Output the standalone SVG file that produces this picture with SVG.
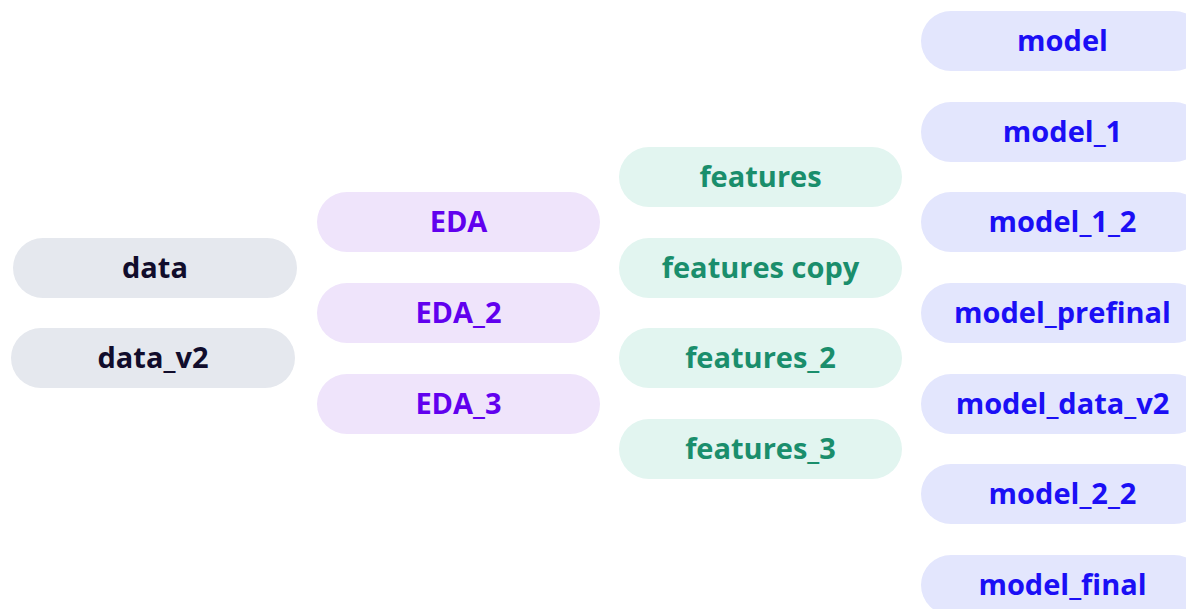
<svg xmlns="http://www.w3.org/2000/svg" width="1186" height="609" viewBox="0 0 1186 609">
  <style>
    text { font-family: "Open Sans", "Noto Sans", "Liberation Sans", sans-serif; font-weight: 700; font-size: 29px; text-anchor: middle; }
    .data rect { fill: #e5e8ee; }
    .data text { fill: #110d2c; }
    .eda rect { fill: #efe4fb; }
    .eda text { fill: #6100ee; }
    .feat rect { fill: #e2f5f0; }
    .feat text { fill: #1a8e6c; }
    .model rect { fill: #e3e6fd; }
    .model text { fill: #1b0ff5; }
  </style>
  <rect width="1186" height="609" fill="#ffffff"/>
  <!-- no edges between the stages -->
  <g id="connectors"/>

  <!-- data column -->
  <g id="data" class="data"><rect x="13" y="238" width="284" height="60" rx="30"/><text x="155" y="278.3">data</text></g>
  <g id="data_v2" class="data"><rect x="11" y="328" width="284" height="60" rx="30"/><text x="153" y="368.3">data_v2</text></g>

  <!-- EDA column -->
  <g id="EDA" class="eda"><rect x="317" y="192" width="283" height="60" rx="30"/><text x="458.5" y="232.3">EDA</text></g>
  <g id="EDA_2" class="eda"><rect x="317" y="283" width="283" height="60" rx="30"/><text x="458.5" y="323.3">EDA_2</text></g>
  <g id="EDA_3" class="eda"><rect x="317" y="374" width="283" height="60" rx="30"/><text x="458.5" y="414.3">EDA_3</text></g>

  <!-- features column -->
  <g id="features" class="feat"><rect x="619" y="147" width="283" height="60" rx="30"/><text x="760.5" y="187.3">features</text></g>
  <g id="features_copy" class="feat"><rect x="619" y="238" width="283" height="60" rx="30"/><text x="760.5" y="278.3">features copy</text></g>
  <g id="features_2" class="feat"><rect x="619" y="328" width="283" height="60" rx="30"/><text x="760.5" y="368.3">features_2</text></g>
  <g id="features_3" class="feat"><rect x="619" y="419" width="283" height="60" rx="30"/><text x="760.5" y="459.3">features_3</text></g>

  <!-- model column -->
  <g id="model" class="model"><rect x="921" y="11" width="283" height="60" rx="30"/><text x="1062.5" y="51.3">model</text></g>
  <g id="model_1" class="model"><rect x="921" y="102" width="283" height="60" rx="30"/><text x="1062.5" y="142.3">model_1</text></g>
  <g id="model_1_2" class="model"><rect x="921" y="192" width="283" height="60" rx="30"/><text x="1062.5" y="232.3">model_1_2</text></g>
  <g id="model_prefinal" class="model"><rect x="921" y="283" width="283" height="60" rx="30"/><text x="1062.5" y="323.3">model_prefinal</text></g>
  <g id="model_data_v2" class="model"><rect x="921" y="374" width="283" height="60" rx="30"/><text x="1062.5" y="414.3">model_data_v2</text></g>
  <g id="model_2_2" class="model"><rect x="921" y="464" width="283" height="60" rx="30"/><text x="1062.5" y="504.3">model_2_2</text></g>
  <g id="model_final" class="model"><rect x="921" y="555" width="283" height="60" rx="30"/><text x="1062.5" y="595.3">model_final</text></g>
</svg>
